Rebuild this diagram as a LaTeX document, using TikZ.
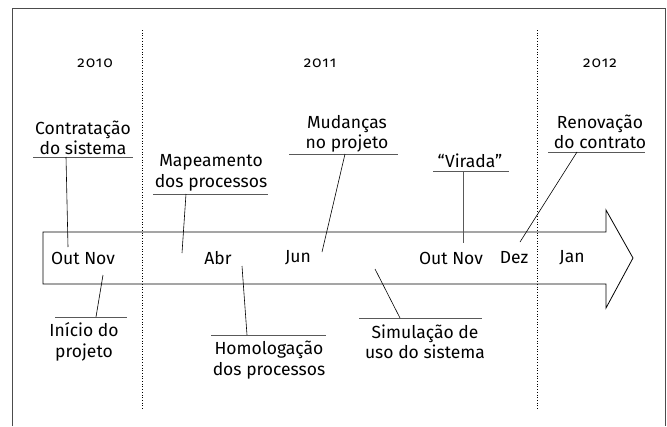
\documentclass[tikz,border=0pt]{standalone}
\usepackage{fontspec}
\setmainfont{Fira Sans}
\newfontfamily\yearfont[Numbers=OldStyle,LetterSpace=8]{Fira Sans}
\begin{document}
\begin{tikzpicture}[x=1pt,y=-1pt,
  lbl/.style={font=\fontsize{17.5}{20.5}\selectfont, align=center, inner sep=0pt},
  yr/.style={font=\yearfont\fontsize{15}{16}\selectfont, inner sep=0pt},
  uline/.style={draw=black!65, line width=0.8pt},
  lead/.style={draw=black, line width=0.6pt},
  sep/.style={draw=black, dotted, line width=0.7pt}]
\useasboundingbox (0,0) rectangle (667,426);
% frame
\draw[black!70, line width=0.8pt] (12,426) -- (12,8) -- (665,8) -- (665,426);
% separators
\coordinate (s1a) at (142,30); \coordinate (s1b) at (142,410);
\coordinate (s2a) at (537,30); \coordinate (s2b) at (537,410);
\draw[sep] (s1a) -- (s1b);
\draw[sep] (s2a) -- (s2b);
% years
\node[yr] (y0) at (95,63) {2010};
\node[yr] (y1) at (320,63) {2011};
\node[yr] (y2) at (600,63) {2012};
% arrow
\draw[line width=0.8pt] (43,232) -- (606,232) -- (606,210) -- (633,258) -- (606,308) -- (606,284) -- (43,284) -- cycle;
% months
\node[lbl] (m1) at (83,258) {Out Nov};
\node[lbl] (m2) at (218,258) {Abr};
\node[lbl] (m3) at (298,258) {Jun};
\node[lbl] (m4) at (451,258) {Out Nov};
\node[lbl] (m5) at (514,258) {Dez};
\node[lbl] (m6) at (572,258) {Jan};
% labels above
\node[lbl] (contr) at (83,138) {Contratação\\do sistema};
\coordinate (contrL) at (33,157); \coordinate (contrR) at (133,157);
\draw[uline] (contrL) -- (contrR);
\coordinate (contrA) at (66,157); \coordinate (contrB) at (68,247);
\draw[lead] (contrA) -- (contrB);

\node[lbl] (mape) at (211,173) {Mapeamento\\dos processos};
\coordinate (mapeL) at (153,194); \coordinate (mapeR) at (268,194);
\draw[uline] (mapeL) -- (mapeR);
\coordinate (mapeA) at (186,194); \coordinate (mapeB) at (182,253);
\draw[lead] (mapeA) -- (mapeB);

\node[lbl] (muda) at (347,134) {Mudanças\\no projeto};
\coordinate (mudaL) at (289,154); \coordinate (mudaR) at (398,154);
\draw[uline] (mudaL) -- (mudaR);
\coordinate (mudaA) at (345,154); \coordinate (mudaB) at (322,252);
\draw[lead] (mudaA) -- (mudaB);

\node[lbl] (vira) at (470,161) {“Virada”};
\coordinate (viraL) at (433,171); \coordinate (viraR) at (509,171);
\draw[uline] (viraL) -- (viraR);
\coordinate (viraA) at (463,171); \coordinate (viraB) at (463,243);
\draw[uline, line width=0.7pt] (viraA) -- (viraB);

\node[lbl] (reno) at (600,132) {Renovação\\do contrato};
\coordinate (renoL) at (548,152); \coordinate (renoR) at (645,152);
\draw[uline] (renoL) -- (renoR);
\coordinate (renoA) at (577,152); \coordinate (renoB) at (520,242);
\draw[lead] (renoA) -- (renoB);

% labels below
\node[lbl] (inic) at (84,342) {Início do\\projeto};
\coordinate (inicL) at (55,317); \coordinate (inicR) at (127,317);
\draw[uline] (inicL) -- (inicR);
\coordinate (inicA) at (96,317); \coordinate (inicB) at (103,275);
\draw[lead] (inicA) -- (inicB);

\node[lbl] (homo) at (269,360) {Homologação\\dos processos};
\coordinate (homoL) at (211,335); \coordinate (homoR) at (326,335);
\draw[uline] (homoL) -- (homoR);
\coordinate (homoA) at (247,335); \coordinate (homoB) at (242,266);
\draw[lead] (homoA) -- (homoB);

\node[lbl] (simu) at (425,342) {Simulação de\\uso do sistema};
\coordinate (simuL) at (359,318); \coordinate (simuR) at (482,318);
\draw[uline] (simuL) -- (simuR);
\coordinate (simuA) at (400,318); \coordinate (simuB) at (375,269);
\draw[lead] (simuA) -- (simuB);
\end{tikzpicture}
\end{document}
